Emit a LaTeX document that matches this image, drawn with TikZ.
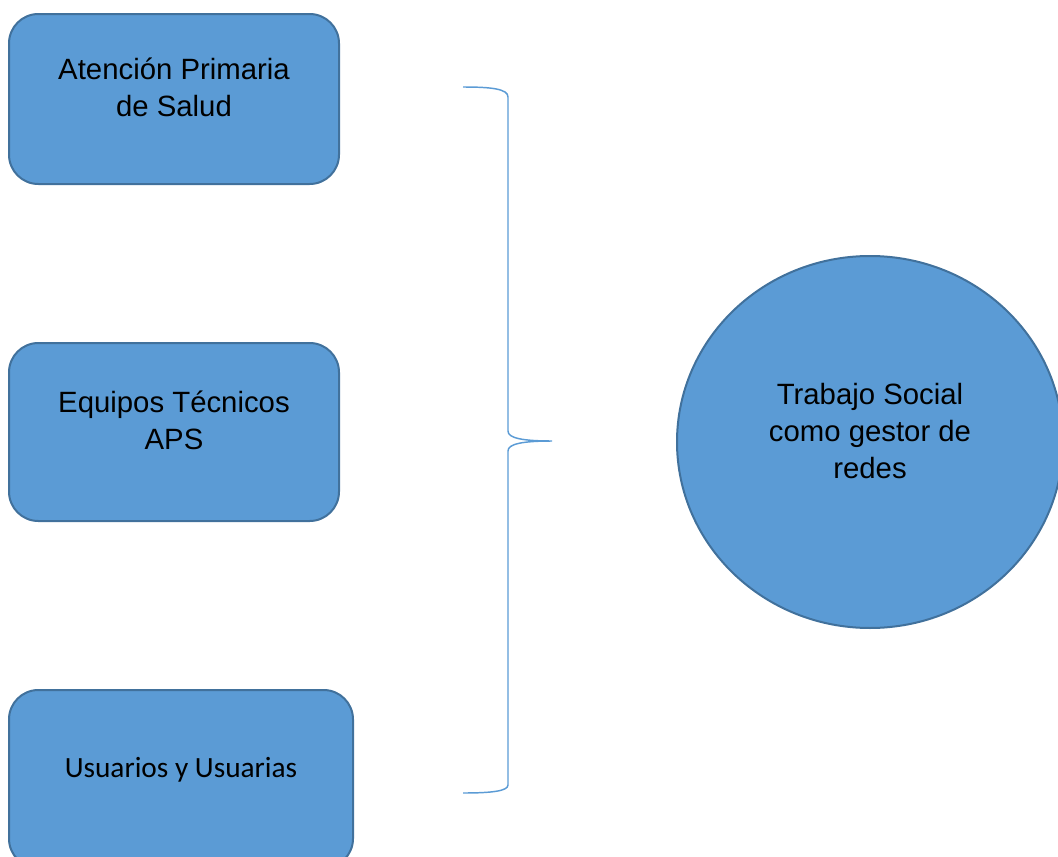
\documentclass[tikz,border=0pt]{standalone}
\usepackage{fontspec}
\setmainfont{Liberation Sans}
\newfontfamily\calibrifont{Carlito}
\usetikzlibrary{positioning,shapes.geometric}

\definecolor{boxfill}{HTML}{5B9BD5}
\definecolor{boxline}{HTML}{41719C}

\begin{document}
\begin{tikzpicture}[x=0.75pt, y=-0.75pt, font=\fontsize{22}{27.75}\selectfont,
	block/.style = { rectangle, rounded corners=22pt, draw=boxline,
	line width=1.5pt, fill=boxfill, align=center, text depth=17pt,
	outer sep=0pt, inner sep=0pt},
	brace/.style = { draw=boxfill, line width=1.1pt } ]
  \useasboundingbox (0,0) rectangle (1058,857);

  \node [name=primaria, block, minimum width=247.5pt, minimum height=127.5pt]
	at (174,99) { Atención Primaria\\de Salud };
  \node [name=equipos, block, minimum width=247.5pt, minimum height=133.5pt,
	below=119.25pt of primaria] { Equipos Técnicos\\APS };
  \node [name=usuarios, block, font=\calibrifont\fontsize{22}{27.75}\selectfont,
	minimum width=258pt, minimum height=133.5pt,
	below=126.75pt of equipos.south west, anchor=north west]
	{Usuarios y Usuarias};
  \node [name=trabajo, block, ellipse, minimum width=289.5pt,
	minimum height=279pt] at (870,442)
	{ Trabajo Social\\como gestor de\\redes };

  \coordinate (bracetop) at (463,87);
  \coordinate (bracetip) at (552,441);
  \coordinate (bracebot) at (463,793);
  \draw [brace] (bracetop) .. controls (492,87) and (508,89) .. (508,97)
	-- (508,431) .. controls (508,438) and (522,441) .. (bracetip)
	.. controls (522,441) and (508,444) .. (508,451)
	-- (508,785) .. controls (508,791) and (492,793) .. (bracebot);
\end{tikzpicture}
\end{document}
